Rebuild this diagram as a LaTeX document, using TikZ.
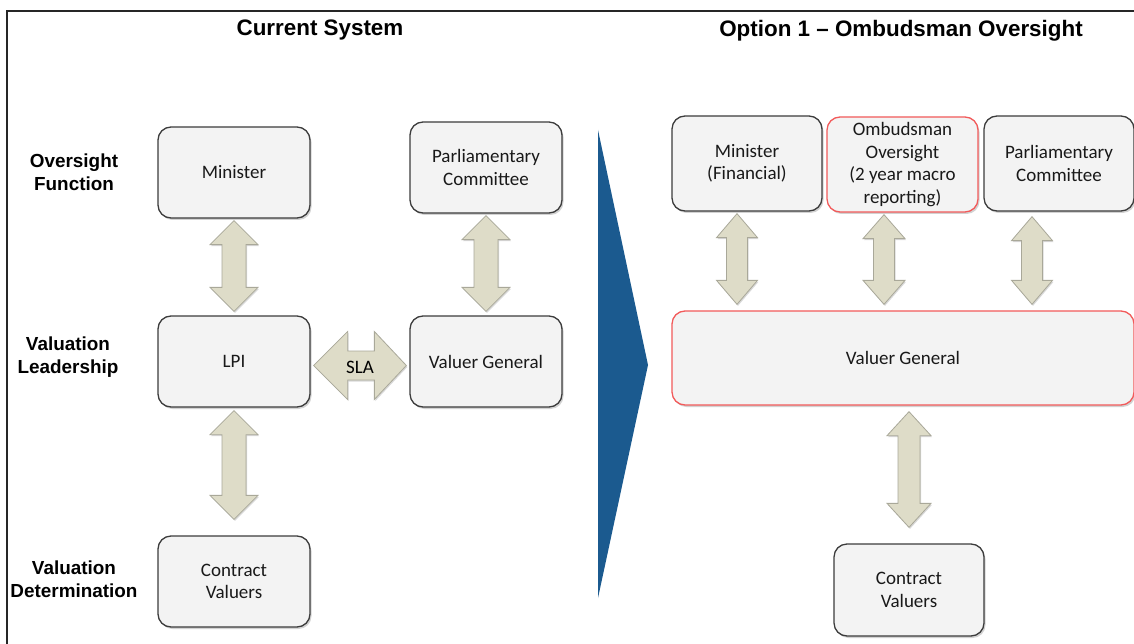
\documentclass[tikz,border=0pt]{standalone}
\usepackage{fontspec}
\setmainfont{Carlito}
\newfontfamily\headfont{Liberation Sans}
\usetikzlibrary{calc,shadows}
\definecolor{boxfill}{HTML}{F3F3F3}
\definecolor{boxline}{HTML}{3C3C3C}
\definecolor{redline}{HTML}{F25A5A}
\definecolor{arrfill}{HTML}{DEDCC8}
\definecolor{arrline}{HTML}{A9A899}
\definecolor{tri}{HTML}{1B5A8F}
\tikzset{
  box/.style={rectangle, rounded corners=13pt, fill=boxfill, draw=boxline, line width=1.3pt,
    drop shadow={shadow xshift=1.5pt, shadow yshift=-2pt, opacity=0.35},
    align=center, inner sep=0pt, font=\fontsize{19}{22.5}\selectfont, text=black!90},
  redbox/.style={box, draw=redline},
  rowlabel/.style={align=center, font=\headfont\bfseries\fontsize{18.9}{22.5}\selectfont},
  title/.style={font=\headfont\bfseries\fontsize{22.4}{26}\selectfont},
  arr/.style={fill=arrfill, draw=arrline, line width=0.8pt, line join=miter,
    drop shadow={shadow xshift=1pt, shadow yshift=-1.5pt, opacity=0.3}},
  lbl/.style={font=\fontsize{19}{22}\selectfont, inner sep=0pt}
}
% vertical double arrow: #1 top point, #2 bottom point, #3 head half width, #4 shaft half width, #5 head length
\newcommand\vdarrow[5]{%
  \path[arr] let \p1=#1, \p2=#2 in
    (\x1,\y1) -- (\x1+#3pt,\y1-#5pt) -- (\x1+#4pt,\y1-#5pt) -- (\x1+#4pt,\y2+#5pt)
    -- (\x1+#3pt,\y2+#5pt) -- (\x1,\y2) -- (\x1-#3pt,\y2+#5pt) -- (\x1-#4pt,\y2+#5pt)
    -- (\x1-#4pt,\y1-#5pt) -- (\x1-#3pt,\y1-#5pt) -- cycle;}
\begin{document}
\begin{tikzpicture}[x=1pt,y=-1pt]
\useasboundingbox (0,0) rectangle (1134,644);
\fill[white] (0,0) rectangle (1134,644);
\draw[line width=2pt, black!85] (7,644) -- (7,11) -- (1134,11);

% titles
\node[title] (t1) at (320,30.5) {Current System};
\node[title] (t2) at (901,30.5) {Option 1 – Ombudsman Oversight};

% row labels
\node[rowlabel] (r1) at (74,172) {Oversight\\Function};
\node[rowlabel] (r2) at (68,357) {Valuation\\Leadership};
\node[rowlabel] (r3) at (74,579) {Valuation\\Determination};

% left boxes
\node[box, minimum width=152pt, minimum height=91pt] (min) at (234,172.5) {Minister};
\node[box, minimum width=152pt, minimum height=91pt] (pc) at (486,167.5) {Parliamentary\\Committee};
\node[box, minimum width=152pt, minimum height=91pt] (lpi) at (234,361.5) {LPI};
\node[box, minimum width=152pt, minimum height=91pt] (vg) at (486,361.5) {Valuer General};
\node[box, minimum width=152pt, minimum height=91pt] (cv) at (234,581.5) {Contract\\Valuers};

% blue triangle
\fill[tri] (598,130) -- (648,365) -- (598,598) -- cycle;

% right boxes
\node[box, minimum width=150pt, minimum height=95pt] (minf) at (747,163.5) {Minister\\(Financial)};
\node[redbox, minimum width=151pt, minimum height=95pt] (omb) at (902.5,164.5) {Ombudsman\\Oversight\\(2 year macro\\reporting)};
\node[box, minimum width=150pt, minimum height=95pt] (pc2) at (1059,163.5) {Parliamentary\\Committee};
\node[redbox, minimum width=462pt, minimum height=94pt] (vg2) at (903,358) {Valuer General};
\node[box, minimum width=150pt, minimum height=92pt] (cv2) at (909,590) {Contract\\Valuers};

% left arrows
\vdarrow{($(min.south)+(0,2)$)}{($(lpi.north)+(0,-4)$)}{24}{12}{24}
\vdarrow{($(pc.south)+(0,2)$)}{($(vg.north)+(0,-4)$)}{24}{12}{24}
\vdarrow{($(lpi.south)+(0,3)$)}{($(cv.north)+(0,-16)$)}{24}{12}{24}

% SLA horizontal arrow
\path[arr] let \p1=($(lpi.east)+(3,4)$), \p2=($(vg.west)+(-3,4)$) in
  (\x1,\y1) -- (\x1+34pt,\y1+34pt) -- (\x1+34pt,\y1+14.5pt) -- (\x2-32pt,\y1+14.5pt)
  -- (\x2-32pt,\y1+34pt) -- (\x2,\y1) -- (\x2-32pt,\y1-34pt) -- (\x2-32pt,\y1-14.5pt)
  -- (\x1+34pt,\y1-14.5pt) -- (\x1+34pt,\y1-34pt) -- cycle;
\node[lbl] (sla) at (360,367) {SLA};

% right arrows
\vdarrow{($(minf.south)+(-10,2)$)}{($(minf.south |- vg2.north)+(-10,-6)$)}{20.5}{10.5}{24}
\vdarrow{($(omb.south)+(-18.5,2)$)}{($(omb.south |- vg2.north)+(-18.5,-6)$)}{21}{10.5}{24}
\vdarrow{($(pc2.south)+(-27,5)$)}{($(pc2.south |- vg2.north)+(-27,-6)$)}{20.5}{10.5}{24}
\vdarrow{($(vg2.south)+(6,6)$)}{($(cv2.north)+(0,-16)$)}{22}{11}{24}
\end{tikzpicture}
\end{document}
